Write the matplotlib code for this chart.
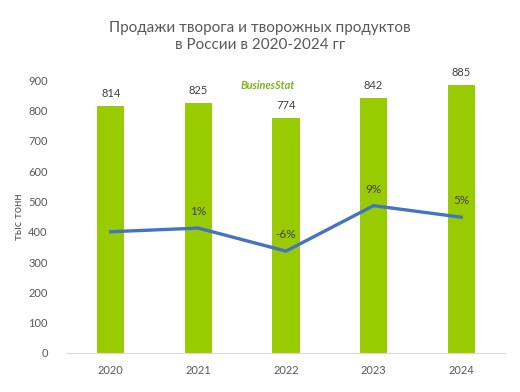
import matplotlib
matplotlib.use("Agg")
import matplotlib.pyplot as plt

years = ["2020", "2021", "2022", "2023", "2024"]
sales = [814, 825, 774, 842, 885]
growth = [0.0, 1.2, -6.4, 8.6, 4.8]
growth_labels = ["", "1%", "-6%", "9%", "5%"]
yticks = [0, 100, 200, 300, 400, 500, 600, 700, 800, 900]

plt.rcParams['font.family'] = ['Lato', 'DejaVu Sans']
grey = "#595959"

fig = plt.figure(figsize=(5.2, 3.92), dpi=100)
ax = fig.add_axes([0.129, 0.0995, 0.842, 0.696])
x = list(range(len(years)))
ax.bar(x, sales, width=0.31, color="#99CC00", zorder=2)
for xi, v in zip(x, sales):
    ax.annotate(str(v), (xi, v), xytext=(0, 5), textcoords="offset points",
                ha="center", va="bottom", fontsize=8, color="#404040")
ax.set_xlim(-0.5, 4.5)
ax.set_ylim(0, 900)
ax.set_yticks(yticks)
ax.set_xticks(x)
ax.set_xticklabels(years)
ax.tick_params(axis="both", length=0, labelsize=8, colors=grey)
ax.tick_params(axis="y", pad=14)
ax.tick_params(axis="x", pad=9)
for s in ["top", "right", "left"]:
    ax.spines[s].set_visible(False)
ax.spines["bottom"].set_color("#D9D9D9")
ax.set_ylabel("тыс тонн", fontsize=8, color=grey, labelpad=3)

ax2 = ax.twinx()
ax2.set_ylim(-40, 50)
ax2.plot(x, growth, color="#4472C4", lw=2.4, zorder=3)
for xi, g, lab in zip(x, growth, growth_labels):
    if lab:
        ax2.annotate(lab, (xi, g), xytext=(0, 8), textcoords="offset points",
                     ha="center", va="bottom", fontsize=8.5, color="#404040")
ax2.axis("off")

fig.text(0.5, 0.906, "Продажи творога и творожных продуктов\nв России в 2020-2024 гг",
         ha="center", va="center", fontsize=11, color=grey, linespacing=1.3)
fig.text(0.515, 0.782, "BusinesStat", ha="center", va="center", fontsize=7.8,
         fontweight="bold", style="italic", color="#7AB51D")

fig.savefig("out.png", dpi=100)
